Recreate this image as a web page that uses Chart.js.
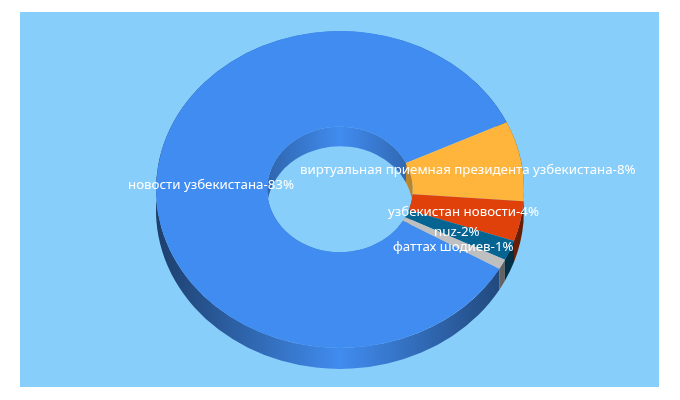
<!DOCTYPE html>
<html>
<head>
<meta charset="utf-8">
<script src="https://cdn.jsdelivr.net/npm/chart.js@4"></script>
<style>
  html, body { margin: 0; background: #fff; }
  #myChart { position: absolute; left: 20px; top: 12px; background: #87cefa; }
</style>
</head>
<body>
<canvas id="myChart" width="639" height="375"></canvas>
<script>
const categories = ["новости узбекистана", "виртуальная приемная президента узбекистана", "узбекистан новости", "nuz", "фаттах шодиев"];
const values = [83, 8, 4, 2, 1];
const colors = ["#418cf0", "#ffb43c", "#e0400a", "#056492", "#bfbfbf"];

// where the text sits inside the canvas (left edge, middle), not chart data
const label_pos = [[108, 173], [280, 158], [368, 200], [414, 220], [373, 235]];

// look of the tilted ring
const center_x = 320;
const center_y = 177.5;
const tilt = 0.861;
const depth = 21;
const hole_depth = 19.5;

function shade(hex, f) {
  const n = parseInt(hex.slice(1), 16);
  const r = Math.round((n >> 16 & 255) * f);
  const g = Math.round((n >> 8 & 255) * f);
  const b = Math.round((n & 255) * f);
  return "rgb(" + r + "," + g + "," + b + ")";
}

function wall(ctx, radius, start, end, drop, fill) {
  ctx.beginPath();
  ctx.ellipse(center_x, center_y + drop, radius, radius * tilt, 0, start, end);
  ctx.ellipse(center_x, center_y, radius, radius * tilt, 0, end, start, true);
  ctx.closePath();
  ctx.fillStyle = fill;
  ctx.fill();
}

function side_gradient(ctx, radius, color, edge) {
  const g = ctx.createLinearGradient(center_x - radius, 0, center_x + radius, 0);
  g.addColorStop(0, shade(color, edge));
  g.addColorStop(0.5, shade(color, 1));
  g.addColorStop(1, shade(color, edge));
  return g;
}

const tilted_ring = {
  id: "tilted_ring",
  beforeDatasetsDraw(chart) {
    const ctx = chart.ctx;
    const arcs = chart.getDatasetMeta(0).data;
    ctx.save();
    arcs.forEach(function (arc, i) {
      wall(ctx, arc.innerRadius, arc.startAngle, arc.endAngle, hole_depth, side_gradient(ctx, arc.innerRadius, colors[i], 0.72));
      wall(ctx, arc.outerRadius, arc.startAngle, arc.endAngle, depth, side_gradient(ctx, arc.outerRadius, colors[i], 0.45));
    });
    ctx.restore();
    ctx.save();
    ctx.translate(center_x, center_y);
    ctx.scale(1, tilt);
    ctx.translate(-arcs[0].x, -arcs[0].y);
  },
  afterDatasetsDraw(chart) {
    const ctx = chart.ctx;
    ctx.restore();
    ctx.save();
    ctx.font = "13.3px 'Noto Sans'";
    ctx.fillStyle = "#fff";
    ctx.textAlign = "left";
    ctx.textBaseline = "middle";
    categories.forEach(function (name, i) {
      ctx.fillText(name + "-" + values[i] + "%", label_pos[i][0], label_pos[i][1]);
    });
    ctx.restore();
  }
};

var a = new Chart(document.getElementById("myChart"), {
  type: "doughnut",
  data: {
    labels: categories,
    datasets: [{
      data: values,
      backgroundColor: colors,
      borderWidth: 0,
      hoverOffset: 0
    }]
  },
  options: {
    responsive: false,
    animation: false,
    radius: 184,
    cutout: "39.6%",
    rotation: 120,
    layout: { padding: 0 },
    plugins: {
      legend: { display: false },
      tooltip: { enabled: false }
    }
  },
  plugins: [tilted_ring]
});
</script>
</body>
</html>
